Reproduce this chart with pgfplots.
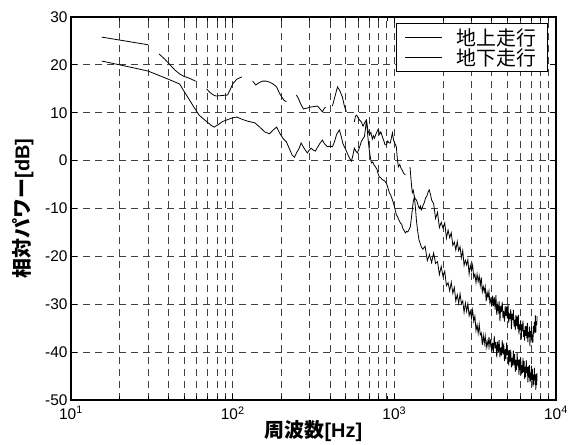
\documentclass[border=0pt]{standalone}
\usepackage{fontspec}
\setmainfont{Liberation Sans}
\newfontfamily\cjk{Noto Sans CJK JP}
\usepackage{pgfplots}
\pgfplotsset{compat=1.18}
\begin{document}
\begin{tikzpicture}
\begin{axis}[
  at={(0,0)}, anchor=south west,
  scale only axis, width=485bp, height=383bp,
  xmode=log, xmin=10, xmax=10000, ymin=-50, ymax=30,
  xtick={10,100,1000,10000},
  xticklabels={10\textsuperscript{1},10\textsuperscript{2},10\textsuperscript{3},10\textsuperscript{4}},
  ytick={-50,-40,-30,-20,-10,0,10,20,30},
  yticklabels={-50,-40,-30,-20,-10,0,10,20,30},
  minor y tick num=0,
  tick label style={font=\fontsize{15.5}{17}\selectfont},
  x tick label style={yshift=-3bp},
  tick align=inside, major tick length=6bp, minor tick length=4bp,
  tick style={black, line width=0.8bp},
  axis line style={line width=2bp},
  xmajorgrids, xminorgrids, ymajorgrids,
  major grid style={dash pattern=on 7bp off 5bp, line width=0.9bp, black!75},
  minor grid style={dash pattern=on 7bp off 5bp, line width=0.9bp, black!75},
  xlabel={{\cjk\bfseries 周波数}\textbf{[Hz]}},
  ylabel={{\cjk\bfseries 相対パワー}\textbf{[dB]}},
  every axis x label/.style={at={(axis description cs:0.5,-0.081)},anchor=center,font=\fontsize{20}{22}\selectfont},
  every axis y label/.style={at={(axis description cs:-0.099,0.5)},rotate=90,anchor=center,font=\fontsize{20}{22}\selectfont},
  unbounded coords=jump,
  legend style={at={(1,1)}, anchor=north east, xshift=-8bp, yshift=-6bp,
    draw=black, line width=1bp, font=\fontsize{20}{21}\selectfont\cjk,
    inner xsep=9bp, inner ysep=3bp, row sep=-2bp, cells={anchor=west}},
  legend image code/.code={\draw[#1, line width=0.8bp] (0bp,0bp) -- (37bp,0bp); \path (49bp,0bp);},
]
\addplot[black, line width=0.8bp] coordinates {
(15.5,25.8)(30,24.2)
(32,nan)
(35,22.3)(38,21.2)(41,20.0)(44,18.9)(47,18.1)(50,17.6)(54,17.2)(59,16.6)
(64,nan)
(69,15.0)(72,14.3)(76,13.7)(79,13.5)(86,13.6)(93,13.7)(97,15.0)(100,16.0)(106,17.0)(114,17.5)
(122,nan)
(133,16.6)(139,15.8)(146,16.3)(153,16.6)(161,16.6)(169,16.4)(178,16.0)(187,15.4)(194,14.2)(201,13.3)(208,12.6)(215,12.3)
(230,nan)
(248,13.7)(255,13.0)(262,12.0)(274,10.8)(290,11.0)(305,11.2)(320,11.3)(335,11.4)(347,10.8)(359,10.2)(367,10.8)(375,11.2)
(395,nan)
(414,11.4)(430,13.5)(445,15.4)(460,14.6)(477,13.3)(490,11.5)(505,10.2)
(535,nan)
(566,8.1)(575,9.3)(585,9.5)(600,8.8)(612,8.4)(625,8.1)(640,7.2)(655,7.9)(672,8.5)(685,6.5)(701,5.4)(716,5.9)(731,4.5)(742,5.2)(754,4.7)(775,5.8)(796,6.6)(810,5.5)(825,6.0)(843,5.0)(860,4.2)(876,3.3)(893,3.3)(910,4.1)(930,3.7)(945,3.7)(960,4.8)(973,5.8)(990,4.2)(1010,3.5)(1029,2.9)(1045,0.2)(1059,-1.3)(1080,-0.8)(1100,-1.6)(1120,-2.0)(1140,-2.6)(1169,-3.0)
(1210,nan)
(1250,-1.3)(1270,-4.2)(1291,-6.7)(1310,-6.2)(1330,-7.6)(1350,-8.0)(1367,-8.2)(1390,-8.8)(1410,-9.6)(1430,-10.0)(1450,-9.5)(1468,-10.3)(1490,-9.8)(1510,-9.2)(1532,-8.8)(1560,-7.8)(1590,-7.4)(1620,-6.5)(1644,-6.1)(1680,-7.3)
(1700,-8.2)(1750,-9.0)(1800,-12.1)(1850,-10.8)(1900,-14.0)(1950,-12.9)(2000,-14.1)(2050,-13.0)(2100,-16.2)(2150,-14.5)(2200,-16.1)(2250,-15.1)(2300,-17.7)(2350,-17.0)(2400,-18.7)(2450,-16.9)(2500,-18.8)(2550,-18.0)(2600,-20.3)(2650,-18.8)(2700,-21.9)(2750,-20.8)(2800,-21.8)(2850,-20.7)(2900,-23.7)(2950,-21.9)(3000,-23.0)(3050,-21.8)(3100,-24.4)(3150,-23.7)(3200,-25.5)(3250,-23.7)(3300,-25.3)(3350,-24.1)(3400,-26.1)(3450,-24.4)(3500,-27.4)(3550,-26.3)(3600,-27.4)(3650,-26.3)(3700,-29.4)(3750,-27.5)(3800,-28.6)(3850,-27.3)(3900,-29.7)(3950,-28.9)(4000,-30.5)
(4050,-28.2)(4100,-30.4)(4150,-28.5)(4200,-31.1)(4250,-28.1)(4300,-32.2)(4350,-30.2)(4400,-31.4)(4450,-29.4)(4500,-33.5)(4550,-30.3)(4600,-31.6)(4650,-29.5)(4700,-32.9)(4750,-31.4)(4800,-33.6)(4850,-30.4)(4900,-32.5)(4950,-30.5)(5000,-33.0)(5050,-29.9)(5100,-33.9)(5150,-31.9)(5200,-33.1)(5250,-31.0)(5300,-35.2)(5350,-32.0)(5400,-33.3)(5450,-31.2)(5500,-34.6)(5550,-33.2)(5600,-35.4)(5650,-32.3)(5700,-34.5)(5750,-32.6)(5800,-35.2)(5850,-32.2)(5900,-36.3)(5950,-34.2)(6000,-35.4)(6050,-33.3)(6100,-37.4)(6150,-34.2)(6200,-35.5)(6250,-33.4)(6300,-36.8)(6350,-35.4)(6400,-37.6)(6450,-34.5)(6500,-36.6)(6550,-34.6)(6600,-37.1)(6650,-33.9)(6700,-37.9)(6750,-35.8)(6800,-36.8)(6850,-34.7)(6900,-38.8)(6950,-35.6)(7000,-36.9)(7050,-34.7)(7100,-38.0)(7150,-36.3)(7200,-38.0)(7250,-34.5)(7300,-36.2)(7350,-33.7)(7400,-35.8)(7450,-32.3)(7500,-36.0)(7550,-33.6)(7600,-34.4)(7640,-32.5)
};
\addlegendentry{地上走行\hspace{13bp}}
\addplot[black, line width=0.8bp] coordinates {
(15.5,20.8)(20,20.0)(25,19.3)(30,18.7)(35,17.8)(40,17.0)(47,16.0)(50,14.5)(54,12.7)(58,11.0)(62,9.5)(66,8.7)(70,8.0)(74,7.3)(77,7.0)(82,7.6)(87,8.2)(92,8.5)(99,8.9)(106,9.1)(115,8.6)(125,8.2)(137,7.9)(147,7.0)(158,6.0)(169,5.6)(178,6.4)(187,7.0)(195,5.8)(205,4.6)(215,3.9)(225,2.4)(233,1.2)(241,0.7)(250,1.8)(258,2.6)(265,3.7)(272,3.0)(280,2.3)(290,1.6)(298,2.2)(305,2.6)(315,2.2)(325,2.0)(335,2.8)(345,3.5)(359,4.3)(370,3.5)(386,2.9)(400,3.0)(414,2.9)(425,3.8)(440,5.5)(457,6.4)(470,5.0)(480,3.6)(491,2.9)(505,2.0)(520,1.0)(532,0.3)(543,-0.1)(555,1.2)(566,2.6)(578,2.0)(591,1.6)(605,2.5)(615,3.2)(625,4.0)(640,4.6)(653,5.0)(662,6.5)(672,8.5)(685,5.2)(698,2.5)(710,0.8)(721,-0.5)(735,-0.3)(750,-0.9)(764,-1.3)(780,-1.8)(795,-2.8)(808,-3.4)(825,-3.6)(843,-4.0)(860,-4.1)(880,-4.4)(900,-5.0)(915,-5.8)(932,-6.7)(950,-7.2)(973,-8.2)(990,-9.0)(1010,-10.2)(1029,-11.3)(1050,-11.8)(1070,-12.5)(1090,-13.0)(1110,-13.3)(1130,-14.2)(1150,-14.6)(1169,-15.1)(1190,-14.8)(1210,-14.9)(1230,-14.5)(1256,-13.8)(1275,-12.0)(1291,-10.3)(1310,-8.5)(1330,-7.6)(1350,-9.8)(1370,-12.5)(1390,-14.4)(1420,-16.5)(1445,-17.3)(1468,-18.0)
(1500,-18.5)(1550,-17.9)(1600,-20.9)(1650,-19.6)(1700,-21.3)(1750,-19.3)(1800,-21.5)(1850,-21.1)(1900,-23.8)(1950,-22.1)(2000,-24.2)(2050,-23.1)(2100,-26.1)(2150,-25.5)(2200,-27.2)(2250,-25.4)(2300,-27.7)(2350,-26.5)(2400,-29.3)(2450,-28.0)(2500,-29.8)(2550,-27.8)(2600,-29.9)(2650,-29.3)(2700,-31.7)(2750,-29.7)(2800,-31.5)(2850,-29.9)(2900,-32.4)(2950,-31.4)(3000,-32.9)(3050,-31.2)(3100,-33.6)(3150,-32.5)(3200,-35.5)(3250,-34.3)(3300,-36.1)(3350,-34.2)(3400,-36.4)(3450,-36.0)(3500,-38.5)(3550,-36.5)(3600,-38.2)(3650,-36.6)(3700,-39.0)(3750,-37.7)(3800,-38.9)(3850,-36.8)(3900,-38.8)(3950,-37.3)(4000,-39.8)
(4050,-38.0)(4100,-40.1)(4150,-36.6)(4200,-39.2)(4250,-37.9)(4300,-41.1)(4350,-37.8)(4400,-40.1)(4450,-37.5)(4500,-41.1)(4550,-39.0)(4600,-40.7)(4650,-37.5)(4700,-40.5)(4750,-38.2)(4800,-41.9)(4850,-39.4)(4900,-41.5)(4950,-38.0)(5000,-40.6)(5050,-39.5)(5100,-42.8)(5150,-39.6)(5200,-42.0)(5250,-39.5)(5300,-43.2)(5350,-41.2)(5400,-42.9)(5450,-39.7)(5500,-42.7)(5550,-40.4)(5600,-44.1)(5650,-41.6)(5700,-43.7)(5750,-40.2)(5800,-42.8)(5850,-41.6)(5900,-44.8)(5950,-41.5)(6000,-43.7)(6050,-41.1)(6100,-44.7)(6150,-42.7)(6200,-44.4)(6250,-41.2)(6300,-44.2)(6350,-41.9)(6400,-45.6)(6450,-43.1)(6500,-45.2)(6550,-41.7)(6600,-44.3)(6650,-43.1)(6700,-46.3)(6750,-43.0)(6800,-45.3)(6850,-42.7)(6900,-46.3)(6950,-44.3)(7000,-46.0)(7050,-42.8)(7100,-45.8)(7150,-43.5)(7200,-47.2)(7250,-44.7)(7300,-46.8)(7350,-43.3)(7400,-45.9)(7450,-44.7)(7500,-47.9)(7550,-44.6)(7600,-46.9)(7640,-44.4)
};
\addlegendentry{地下走行\hspace{13bp}}
\end{axis}
\pgfresetboundingbox
\path[use as bounding box] (-71bp,-45bp) rectangle (498bp,400bp);
\end{tikzpicture}
\end{document}
